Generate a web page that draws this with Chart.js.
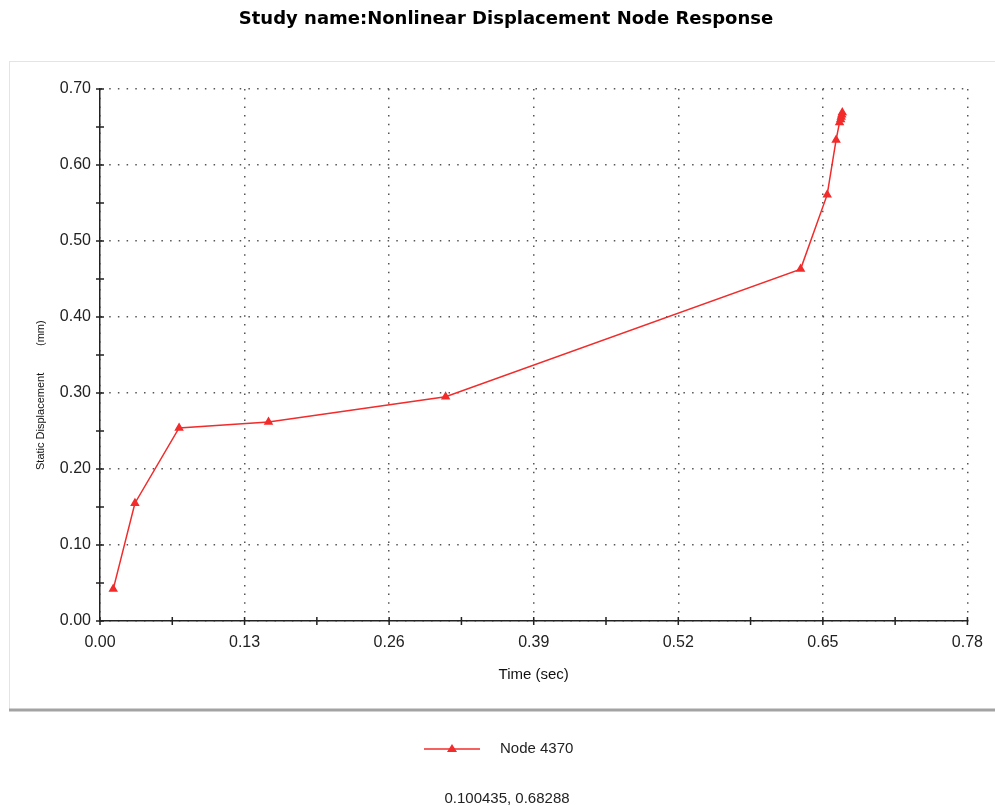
<!DOCTYPE html>
<html>
<head>
<meta charset="utf-8">
<script src="https://cdn.jsdelivr.net/npm/chart.js@4/dist/chart.umd.min.js"></script>
<style>
  body { margin: 0; background: #fff; }
  #wrap { width: 995px; height: 806px; position: relative; }
</style>
</head>
<body>
<div id="wrap"><canvas id="chart"></canvas></div>
<script>
// values
const timeSec = [0.0119, 0.0314, 0.0711, 0.1515, 0.3108, 0.6300, 0.6539, 0.6619, 0.6650, 0.6660, 0.6665, 0.6670, 0.6675];
const displacementMm = [0.042, 0.155, 0.254, 0.262, 0.295, 0.463, 0.561, 0.633, 0.656, 0.660, 0.663, 0.666, 0.669];
const xTicks = [0, 0.13, 0.26, 0.39, 0.52, 0.65, 0.78];
const yTicks = [0, 0.1, 0.2, 0.3, 0.4, 0.5, 0.6, 0.7];
const chartTitle = 'Study name:Nonlinear Displacement Node Response';
const seriesName = 'Node 4370';
const cursorText = '0.100435, 0.68288';

const red = '#f22b2b';
const font = '"Liberation Sans", Arial, sans-serif';

const points = timeSec.map((t, i) => ({ x: t, y: displacementMm[i] }));

// panel frame, title, axis ticks, y title and legend
const extras = {
  id: 'extras',
  beforeDraw(chart) {
    const ctx = chart.ctx;
    ctx.save();
    ctx.fillStyle = '#fff';
    ctx.fillRect(0, 0, chart.width, chart.height);
    ctx.strokeStyle = '#e4e4e4';
    ctx.lineWidth = 1;
    ctx.strokeRect(9.5, 61.5, chart.width, 648);
    ctx.strokeStyle = '#a3a3a3';
    ctx.lineWidth = 3;
    ctx.beginPath();
    ctx.moveTo(9, 710);
    ctx.lineTo(chart.width, 710);
    ctx.stroke();

    ctx.fillStyle = '#000';
    ctx.font = 'bold 18px "DejaVu Sans", Verdana, sans-serif';
    ctx.textAlign = 'center';
    ctx.textBaseline = 'middle';
    ctx.fillText(chartTitle, 506, 19);
    ctx.restore();
  },
  afterDatasetsDraw(chart) {
    const ctx = chart.ctx;
    const xs = chart.scales.x, ys = chart.scales.y;
    const area = chart.chartArea;
    ctx.save();
    ctx.strokeStyle = '#222';
    ctx.lineWidth = 1.5;
    ctx.beginPath();
    for (let v = 0; v <= 0.7001; v += 0.05) {
      const py = ys.getPixelForValue(v);
      ctx.moveTo(area.left - 4, py);
      ctx.lineTo(area.left + 4, py);
    }
    for (let v = 0; v <= 0.7801; v += 0.065) {
      const px = xs.getPixelForValue(v);
      ctx.moveTo(px, area.bottom - 4);
      ctx.lineTo(px, area.bottom + 4);
    }
    ctx.stroke();

    // y title
    ctx.fillStyle = '#111';
    ctx.font = '11px ' + font;
    ctx.textBaseline = 'middle';
    ctx.textAlign = 'left';
    ctx.translate(41, 0);
    ctx.rotate(-Math.PI / 2);
    ctx.fillText('Static Displacement', -470, 0);
    ctx.fillText('(mm)', -346, 0);
    ctx.restore();

    // legend
    ctx.save();
    ctx.strokeStyle = red;
    ctx.fillStyle = red;
    ctx.lineWidth = 1.5;
    ctx.beginPath();
    ctx.moveTo(424, 749);
    ctx.lineTo(480, 749);
    ctx.stroke();
    ctx.beginPath();
    ctx.moveTo(452, 744);
    ctx.lineTo(457, 752);
    ctx.lineTo(447, 752);
    ctx.closePath();
    ctx.fill();
    ctx.fillStyle = '#222';
    ctx.font = '15px ' + font;
    ctx.textBaseline = 'middle';
    ctx.textAlign = 'left';
    ctx.fillText(seriesName, 500, 749);
    ctx.textAlign = 'center';
    ctx.fillText(cursorText, 507, 799);
    ctx.restore();
  }
};

new Chart(document.getElementById('chart'), {
  type: 'line',
  data: {
    datasets: [{
      label: seriesName,
      data: points,
      borderColor: red,
      backgroundColor: red,
      borderWidth: 1.5,
      pointStyle: 'triangle',
      pointRadius: 4,
      pointHoverRadius: 4,
      tension: 0
    }]
  },
  options: {
    responsive: true,
    maintainAspectRatio: false,
    animation: false,
    events: [],
    layout: { padding: { left: 0, right: 25, top: 89, bottom: 122.6 } },
    plugins: {
      legend: { display: false },
      tooltip: { enabled: false },
      title: { display: false }
    },
    scales: {
      x: {
        type: 'linear',
        min: 0,
        max: 0.78,
        afterBuildTicks: s => { s.ticks = xTicks.map(v => ({ value: v })); },
        afterFit: s => { s.height = 62.4; },
        ticks: {
          padding: 12,
          color: '#222',
          font: { family: font, size: 16 },
          callback: v => v.toFixed(2)
        },
        grid: { color: '#555', lineWidth: 1.5, drawTicks: false },
        border: { color: '#222', width: 1.5, dash: [1.5, 7.2] },
        title: {
          display: true,
          text: 'Time (sec)',
          color: '#111',
          font: { family: font, size: 15 },
          padding: 0
        }
      },
      y: {
        type: 'linear',
        min: 0,
        max: 0.7,
        afterBuildTicks: s => { s.ticks = yTicks.map(v => ({ value: v })); },
        afterFit: s => { s.width = 100; },
        ticks: {
          padding: 9,
          color: '#222',
          font: { family: font, size: 16 },
          callback: v => v.toFixed(2)
        },
        grid: { color: '#555', lineWidth: 1.5, drawTicks: false },
        border: { color: '#222', width: 1.5, dash: [1.5, 7.2] }
      }
    }
  },
  plugins: [extras]
});
</script>
</body>
</html>
